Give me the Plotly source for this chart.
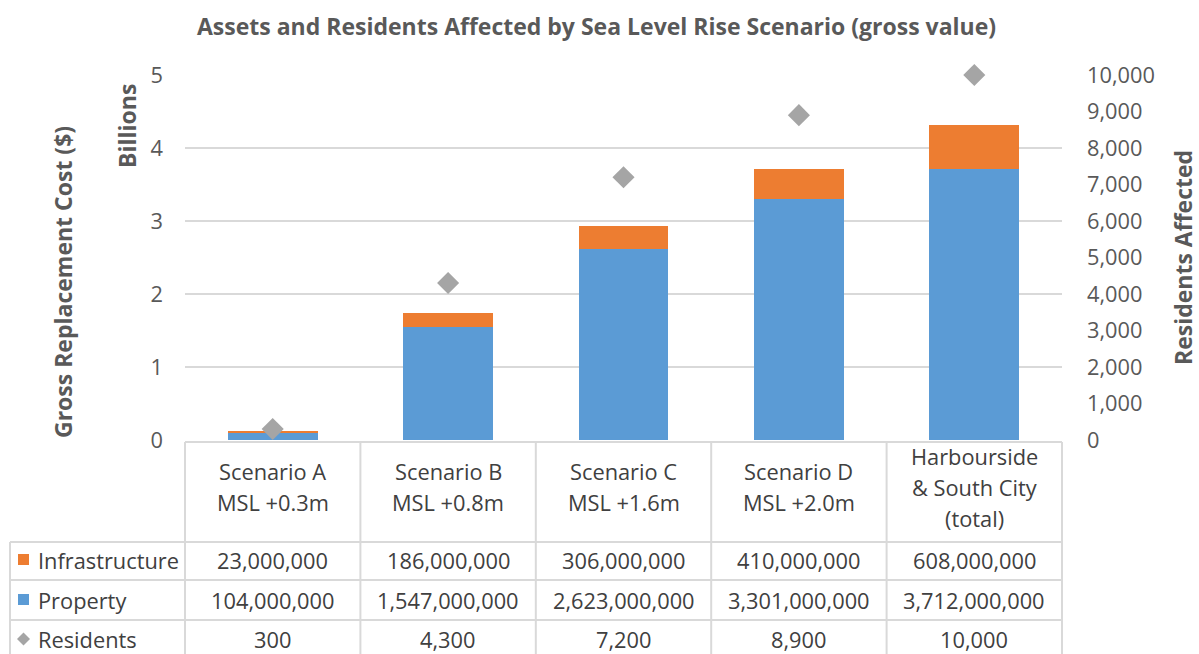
import plotly.graph_objects as go

# ---- data ----
categories = ["Scenario A<br>MSL +0.3m", "Scenario B<br>MSL +0.8m", "Scenario C<br>MSL +1.6m",
              "Scenario D<br>MSL +2.0m", "Harbourside<br>& South City<br>(total)"]
infrastructure = [23000000, 186000000, 306000000, 410000000, 608000000]
property_vals = [104000000, 1547000000, 2623000000, 3301000000, 3712000000]
residents = [300, 4300, 7200, 8900, 10000]
left_ticks = [0, 1, 2, 3, 4, 5]
right_ticks = [0, 1000, 2000, 3000, 4000, 5000, 6000, 7000, 8000, 9000, 10000]

BLUE = "#5b9bd5"
ORANGE = "#ed7d31"
GRAY = "#a5a5a5"
TXT = "#595959"
TBL = "#404040"
GRID = "#d9d9d9"
FONT = "Open Sans"
FS = 21.8
BFS = 23

W, H = 1199, 654
L, R, T, B = 185, 1062, 75, 440

def px(x):
    return (x - L) / (R - L)

def py(y):
    return (B - y) / (B - T)

fig = go.Figure()
fig.add_trace(go.Bar(x=categories, y=[v / 1e9 for v in property_vals], name="Property",
                     marker=dict(color=BLUE, line=dict(width=0))))
fig.add_trace(go.Bar(x=categories, y=[v / 1e9 for v in infrastructure], name="Infrastructure",
                     marker=dict(color=ORANGE, line=dict(width=0))))
fig.add_trace(go.Scatter(x=categories, y=residents, name="Residents", mode="markers", yaxis="y2",
                         cliponaxis=False,
                         marker=dict(symbol="diamond", size=17, color=GRAY, line=dict(width=0))))

fig.update_layout(
    width=W, height=H,
    margin=dict(l=L, r=W - R, t=T, b=H - B),
    barmode="stack", bargap=0.487,
    showlegend=False,
    plot_bgcolor="white", paper_bgcolor="white",
    font=dict(family=FONT, color=TXT, size=FS),
    xaxis=dict(showticklabels=False, showgrid=False, zeroline=False, showline=False, ticks=""),
    yaxis=dict(range=[0, 5], tickvals=left_ticks, showgrid=True, gridcolor=GRID, gridwidth=2,
               zeroline=False, showline=False, ticks="", ticklabelstandoff=21,
               tickfont=dict(size=FS, color=TXT)),
    yaxis2=dict(range=[0, 10000], tickvals=right_ticks, tickformat=",", overlaying="y", side="right",
                showgrid=False, zeroline=False, showline=False, ticks="", ticklabelstandoff=24,
                tickfont=dict(size=FS, color=TXT)),
)

ann = []
ann.append(dict(text="<b>Assets and Residents Affected by Sea Level Rise Scenario (gross value)</b>",
                xref="paper", yref="paper", x=px(596), y=py(26), showarrow=False,
                font=dict(size=BFS, color=TXT), xanchor="center", yanchor="middle"))
for txt, xx, yy in [("Gross Replacement Cost ($)", 63, 282), ("Billions", 127, 126), ("Residents Affected", 1183, 258)]:
    ann.append(dict(text=f"<b>{txt}</b>", xref="paper", yref="paper", x=px(xx), y=py(yy),
                    textangle=-90, showarrow=False, xanchor="center", yanchor="middle",
                    font=dict(size=BFS, color=TXT)))

# ---- data table ----
col_edges = [185, 360.4, 535.8, 711.2, 886.6, 1062]
hdr_top, row_lines, bottom = 442, [542, 580, 620], 656
shapes = []
lc = dict(color=GRID, width=2)
shapes.append(dict(type="line", xref="paper", yref="paper", x0=px(185), x1=px(1062), y0=py(hdr_top), y1=py(hdr_top), line=lc))
for yl in row_lines + [bottom]:
    shapes.append(dict(type="line", xref="paper", yref="paper", x0=px(10), x1=px(1062), y0=py(yl), y1=py(yl), line=lc))
for xe in col_edges:
    shapes.append(dict(type="line", xref="paper", yref="paper", x0=px(xe), x1=px(xe), y0=py(hdr_top), y1=py(bottom), line=lc))
shapes.append(dict(type="line", xref="paper", yref="paper", x0=px(10), x1=px(10), y0=py(542), y1=py(bottom), line=lc))

# header lines
for i, cat in enumerate(categories):
    lines = cat.split("<br>")
    n = len(lines)
    sp = 31
    cy = 487
    for j, ln in enumerate(lines):
        yy = cy + (j - (n - 1) / 2) * sp
        ann.append(dict(text=ln, xref="x", yref="paper", x=cat, y=py(yy), showarrow=False,
                        font=dict(size=FS, color=TBL), xanchor="center", yanchor="middle"))

rows = [("Infrastructure", infrastructure, 560), ("Property", property_vals, 600), ("Residents", residents, 639)]
for name, vals, yy in rows:
    for cat, v in zip(categories, vals):
        ann.append(dict(text=f"{v:,}", xref="x", yref="paper", x=cat, y=py(yy), showarrow=False,
                        font=dict(size=FS, color=TBL), xanchor="center", yanchor="middle"))
    ann.append(dict(text=name, xref="paper", yref="paper", x=px(36), y=py(yy), showarrow=False,
                    font=dict(size=FS, color=TBL), xanchor="left", yanchor="middle"))

# legend keys in table
shapes.append(dict(type="rect", xref="paper", yref="paper", x0=px(18), x1=px(29), y0=py(554), y1=py(565),
                   fillcolor=ORANGE, line=dict(width=0)))
shapes.append(dict(type="rect", xref="paper", yref="paper", x0=px(18), x1=px(29), y0=py(594), y1=py(605),
                   fillcolor=BLUE, line=dict(width=0)))
shapes.append(dict(type="path", xref="paper", yref="paper",
                   path=f"M {px(17)} {py(639)} L {px(23.5)} {py(632.5)} L {px(30)} {py(639)} L {px(23.5)} {py(645.5)} Z",
                   fillcolor=GRAY, line=dict(width=0)))

fig.update_layout(annotations=ann, shapes=shapes)
fig.write_html("out.html")
